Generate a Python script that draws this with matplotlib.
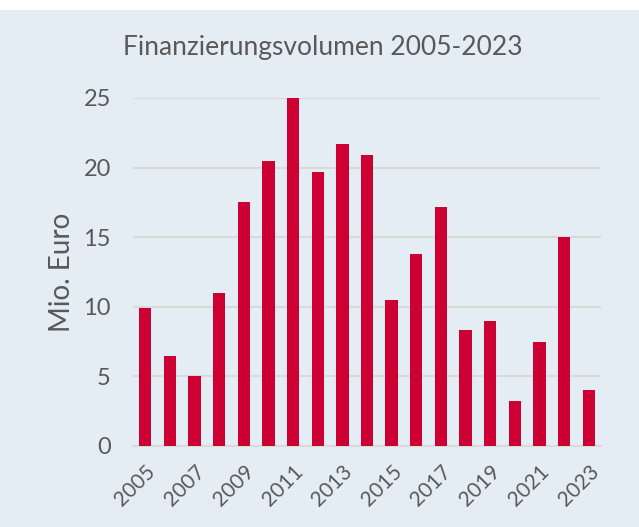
import matplotlib
matplotlib.use("Agg")
import matplotlib.pyplot as plt
from matplotlib.patches import Rectangle

years = [str(y) for y in range(2005, 2024)]
values = [9.9, 6.5, 5.0, 11.0, 17.5, 20.5, 25.0, 19.7, 21.7, 20.9, 10.5, 13.8, 17.2, 8.3, 9.0, 3.2, 7.5, 15.0, 4.0]
yticks = [0, 5, 10, 15, 20, 25]
title = "Finanzierungsvolumen 2005-2023"
ylabel = "Mio. Euro"

bg = "#e4edf3"
text_col = "#595959"
bar_col = "#cc0033"
grid_col = "#d9d9d9"

plt.rcParams['font.family'] = ['Lato', 'DejaVu Sans']

fig = plt.figure(figsize=(6.39, 5.27), dpi=100)
fig.patch.set_facecolor("white")
fig.patches.append(Rectangle((0, 0), 1, 1 - 10/527, transform=fig.transFigure,
                             facecolor=bg, edgecolor="none", zorder=-10))

ax = fig.add_axes([133/639, 1 - 446/527, (601-133)/639, (446-98)/527])
ax.set_facecolor("none")
x = list(range(len(years)))
ax.bar(x, values, width=0.5, color=bar_col, zorder=3)
ax.set_xlim(-0.5, len(years) - 0.5)
ax.set_ylim(0, 25)
ax.set_yticks(yticks)
ax.set_yticklabels([str(t) for t in yticks], fontsize=17, color=text_col)
ax.yaxis.grid(True, color=grid_col, linewidth=1.5, zorder=0)
ax.set_axisbelow(True)
for s in ["top", "right", "left"]:
    ax.spines[s].set_visible(False)
ax.spines["bottom"].set_color(grid_col)
ax.spines["bottom"].set_linewidth(1.5)
ax.tick_params(axis="both", length=0)
ax.tick_params(axis="y", pad=16)
ax.set_xticks(x[::2])
ax.set_xticklabels(years[::2], rotation=45, ha="right", rotation_mode="anchor",
                   fontsize=15, color=text_col)
ax.tick_params(axis="x", pad=11)
ax.set_ylabel(ylabel, fontsize=20, color=text_col, labelpad=6)
fig.text(323/639, 1 - 47/527, title, ha="center", va="center", fontsize=19, color=text_col)

fig.savefig("out.png", dpi=100, facecolor=fig.get_facecolor())
